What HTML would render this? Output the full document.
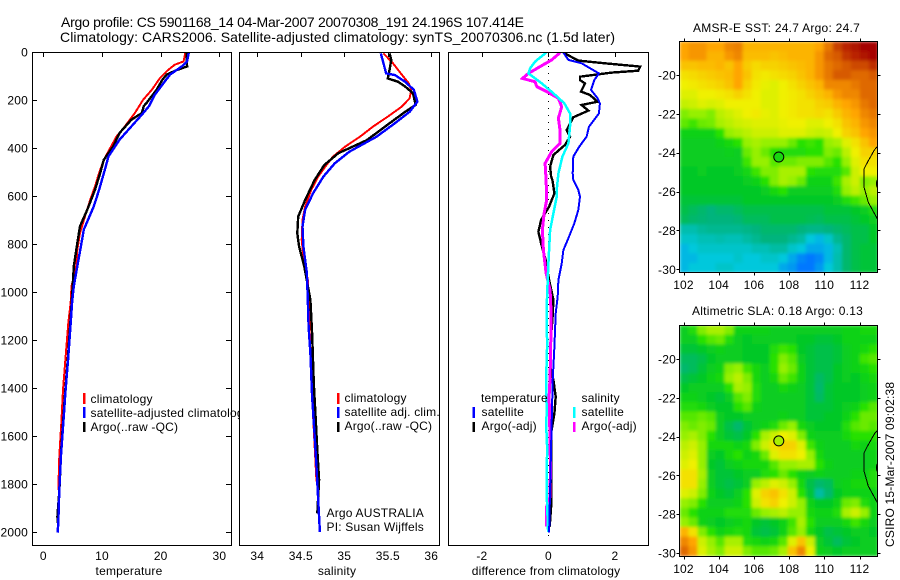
<!DOCTYPE html>
<html lang="en">
<head>
<meta charset="utf-8">
<title>Argo profile CS 5901168_14</title>
<style>
html,body{margin:0;padding:0;background:#fff;}
svg{display:block;}
text{font-family:"Liberation Sans",Arial,sans-serif;font-size:12px;fill:#000;letter-spacing:.2px;}
.title{font-size:14px;letter-spacing:0;}
.frame{fill:none;stroke:#000;stroke-width:1;shape-rendering:crispEdges;}
.bg{fill:#fff;}
</style>
</head>
<body>
<svg id="fig" xmlns="http://www.w3.org/2000/svg" width="900" height="580" viewBox="0 0 900 580">
  <defs>
    <filter id="soften" filterUnits="userSpaceOnUse" x="660" y="20" width="240" height="560">
      <feGaussianBlur stdDeviation="1.5" edgeMode="duplicate"/>
    </filter>
    <clipPath id="clip-sst"><rect x="680" y="42" width="198" height="231"/></clipPath>
    <clipPath id="clip-sla"><rect x="680" y="326" width="198" height="231"/></clipPath>
  </defs>
  <rect class="bg" x="0" y="0" width="900" height="580"/>

  <text class="title" x="61" y="27" textLength="463" lengthAdjust="spacing">Argo profile: CS 5901168_14 04-Mar-2007 20070308_191 24.196S 107.414E</text>
  <text class="title" x="60" y="42" textLength="555" lengthAdjust="spacing">Climatology: CARS2006. Satellite-adjusted climatology: synTS_20070306.nc (1.5d later)</text>

  <g>
    <rect class="bg" x="32.5" y="52.5" width="199" height="493"/>
    <g id="marks-temp"></g>
    <g id="axis-temp"></g>
    <rect class="frame" x="32.5" y="52.5" width="199" height="493"/>
    <rect x="83" y="393" width="2.5" height="11" fill="#f00"/>
    <rect x="83" y="407" width="2.5" height="11" fill="#00f"/>
    <rect x="83" y="422" width="2.5" height="10" fill="#000"/>
    <text x="90.5" y="403">climatology</text>
    <text x="90.5" y="417">satellite-adjusted climatology</text>
    <text x="90.5" y="431">Argo(..raw -QC)</text>
    <text x="129" y="575" text-anchor="middle">temperature</text>
  </g>

  <g>
    <rect class="bg" x="239.5" y="52.5" width="200" height="493"/>
    <g id="marks-sal"></g>
    <g id="axis-sal"></g>
    <rect class="frame" x="239.5" y="52.5" width="200" height="493"/>
    <rect x="337" y="393" width="2.5" height="11" fill="#f00"/>
    <rect x="337" y="407" width="2.5" height="11" fill="#00f"/>
    <rect x="337" y="422" width="2.5" height="10" fill="#000"/>
    <text x="344.5" y="402">climatology</text>
    <text x="344.5" y="416">satellite adj. clim.</text>
    <text x="344.5" y="430">Argo(..raw -QC)</text>
    <text x="326.5" y="517">Argo AUSTRALIA</text>
    <text x="326.5" y="531">PI: Susan Wijffels</text>
    <text x="337" y="575" text-anchor="middle">salinity</text>
  </g>

  <g>
    <rect class="bg" x="448.5" y="52.5" width="200" height="493"/>
    <g id="marks-diff"></g>
    <g id="axis-diff"></g>
    <rect class="frame" x="448.5" y="52.5" width="200" height="493"/>
    <text x="481" y="402">temperature</text>
    <rect x="472.5" y="407" width="2.5" height="11" fill="#00f"/>
    <text x="481.5" y="416">satellite</text>
    <rect x="472.5" y="422" width="2.5" height="10" fill="#000"/>
    <text x="481.5" y="430">Argo(-adj)</text>
    <text x="581.5" y="402">salinity</text>
    <rect x="573" y="407" width="2.5" height="11" fill="#0ff"/>
    <text x="581.5" y="416">satellite</text>
    <rect x="573" y="422" width="2.5" height="10" fill="#f0f"/>
    <text x="581.5" y="430">Argo(-adj)</text>
    <text x="546" y="575" text-anchor="middle">difference from climatology</text>
  </g>

  <g>
    <text x="693" y="32" textLength="167" lengthAdjust="spacing">AMSR-E SST: 24.7 Argo: 24.7</text>
    <g clip-path="url(#clip-sst)">
      <g id="cells-sst" filter="url(#soften)"></g>
      <g id="over-sst"></g>
    </g>
    <g id="axis-sst"></g>
    <rect class="frame" x="679.5" y="41.5" width="198" height="231"/>
  </g>

  <g>
    <text x="692" y="315" textLength="171" lengthAdjust="spacing">Altimetric SLA: 0.18 Argo: 0.13</text>
    <g clip-path="url(#clip-sla)">
      <g id="cells-sla" filter="url(#soften)"></g>
      <g id="over-sla"></g>
    </g>
    <g id="axis-sla"></g>
    <rect class="frame" x="679.5" y="325.5" width="198" height="231"/>
  </g>

  <text transform="translate(894,547) rotate(-90)">CSIRO 15-Mar-2007 09:02:38</text>
</svg>

<script>
// ---- depth tick labels ----
const depthTicks = [0, 200, 400, 600, 800, 1000, 1200, 1400, 1600, 1800, 2000];
const tempTicks = [0, 10, 20, 30];
const salTicks = [34, 34.5, 35, 35.5, 36];
const diffTicks = [-2, 0, 2];
const lonTicks = [102, 104, 106, 108, 110, 112];
const latTicks = [-20, -22, -24, -26, -28, -30];

// ---- temperature panel ----
const tempClimDepth = [0, 39, 53, 74, 108, 157, 199, 254, 310, 351, 407, 449, 504, 560, 615, 685, 754, 824, 893, 976, 1042, 1130, 1270, 1408, 1547, 1686, 1825];
const tempClimValue = [24.2, 23.9, 22.4, 21.3, 19.9, 18.5, 17, 15.6, 13.9, 12.5, 11.25, 10.3, 9.5, 8.8, 8, 7.1, 6.25, 5.8, 5.6, 4.8, 4.66, 4.26, 3.8, 3.35, 3.07, 2.73, 2.56];
const tempSatDepth = [0, 39, 60, 94, 129, 178, 226, 261, 310, 365, 435, 490, 574, 643, 740, 810, 893, 976, 1042, 1130, 1270, 1408, 1547, 1686, 1825, 1963, 2003];
const tempSatValue = [24.8, 24.5, 23.6, 21.6, 20.5, 19, 18, 16.8, 15, 13, 11.1, 10.5, 9.5, 8.6, 6.9, 6.4, 5.8, 5.2, 4.9, 4.66, 4.26, 3.8, 3.4, 3, 2.73, 2.56, 2.44];
const tempArgoDepth = [0, 60, 76, 94, 115, 157, 212, 226, 254, 282, 337, 393, 449, 504, 574, 657, 726, 810, 893, 976, 1130, 1270, 1408, 1547, 1658, 1825, 1936, 1978];
const tempArgoValue = [24.4, 24.5, 22.7, 21, 20.3, 19.3, 17.6, 17.1, 16.8, 15, 13, 11.9, 10.3, 9.7, 8.8, 7.5, 6.25, 5.7, 5.2, 5, 4.6, 4.2, 3.75, 3.35, 3.05, 2.75, 2.4, 2.55];

// ---- salinity panel ----
const salClimDepth = [6, 47, 89, 130, 158, 193, 228, 269, 311, 353, 394, 436, 478, 519, 575, 644, 700, 783, 853, 950, 1144, 1436, 1790];
const salClimValue = [35.45, 35.56, 35.65, 35.74, 35.77, 35.75, 35.66, 35.5, 35.33, 35.18, 35.01, 34.87, 34.78, 34.7, 34.62, 34.55, 34.52, 34.51, 34.53, 34.58, 34.6, 34.63, 34.68];
const salSatDepth = [6, 47, 89, 96, 124, 158, 207, 249, 297, 353, 415, 464, 519, 589, 658, 728, 811, 922, 1033, 1144, 1256, 1436, 1575, 1728, 1867, 2000];
const salSatValue = [35.42, 35.45, 35.48, 35.58, 35.7, 35.8, 35.84, 35.75, 35.58, 35.37, 35.06, 34.89, 34.76, 34.64, 34.55, 34.52, 34.53, 34.57, 34.58, 34.59, 34.61, 34.63, 34.655, 34.68, 34.7, 34.72];
const salArgoDepth = [6, 33, 75, 110, 124, 144, 172, 221, 249, 297, 367, 422, 471, 533, 617, 686, 756, 811, 894, 1033, 1172, 1381, 1519, 1658, 1783, 1922];
const salArgoValue = [35.52, 35.54, 35.52, 35.5, 35.62, 35.7, 35.79, 35.82, 35.7, 35.52, 35.26, 34.93, 34.77, 34.66, 34.55, 34.47, 34.46, 34.48, 34.54, 34.61, 34.63, 34.65, 34.67, 34.69, 34.71, 34.69];

// ---- difference panel ----
const diffTempSatDepth = [3, 33, 47, 89, 117, 158, 193, 214, 256, 311, 353, 394, 436, 506, 533, 575, 603, 658, 714, 783, 825, 881, 950, 1019, 1089, 1228, 1367, 1644, 2003];
const diffTempSatValue = [0.45, 0.6, 1.0, 1.52, 1.38, 1.28, 1.48, 1.55, 1.52, 1.22, 1.15, 0.93, 0.75, 0.73, 0.75, 0.9, 0.95, 0.9, 0.78, 0.58, 0.45, 0.4, 0.3, 0.28, 0.22, 0.18, 0.13, 0.08, 0.02];
const diffTempArgoDepth = [3, 36, 47, 61, 78, 86, 103, 117, 131, 165, 179, 207, 221, 244, 272, 325, 353, 387, 429, 478, 519, 533, 589, 644, 700, 749, 797, 867, 950, 1033, 1117, 1228, 1325, 1367, 1436, 1506, 1589, 1894, 1978];
const diffTempArgoValue = [0.45, 0.9, 1.7, 2.76, 2.7, 1.9, 0.95, 0.95, 1.1, 0.98, 1.25, 1.48, 1.0, 1.2, 0.75, 0.55, 0.65, 0.5, 0.15, 0.05, 0.08, 0.12, 0.18, 0.02, -0.22, -0.3, -0.22, -0.08, 0.02, 0.15, 0.12, 0.05, 0.08, 0.15, 0.22, 0.18, 0.08, 0.08, 0.04];
const diffSalSatDepth = [3, 40, 68, 89, 110, 131, 172, 214, 256, 311, 381, 436, 506, 575, 603, 672, 742, 881, 950, 1061, 1228, 1367, 1506, 1547, 1644, 1839, 2000];
const diffSalSatValue = [-0.07, -0.4, -0.55, -0.6, -0.4, -0.2, 0.15, 0.48, 0.65, 0.65, 0.6, 0.42, 0.3, 0.25, 0.25, 0.15, 0.05, 0, -0.02, -0.05, -0.04, -0.07, -0.05, -0.07, -0.04, -0.05, -0.01];
const diffSalArgoDepth = [3, 33, 61, 89, 110, 124, 144, 165, 193, 228, 276, 325, 381, 415, 464, 533, 617, 672, 742, 825, 922, 992, 1089, 1228, 1353, 1436, 1547, 1714, 1853, 1894, 1978];
const diffSalArgoValue = [0.35, 0.1, -0.25, -0.6, -0.78, -0.4, -0.35, -0.05, 0.3, 0.4, 0.3, 0.35, 0.35, 0.1, -0.1, -0.07, -0.05, -0.13, -0.18, -0.15, -0.07, 0.05, 0.08, 0.07, 0.05, 0.02, 0.04, 0.06, 0.05, -0.05, -0.05];
const zeroLineDepth = [0, 2040];
const zeroLineValue = [0, 0];

// ---- SST map values on a colour scale of 0 (blue) to 100 (dark red) ----
const sstRows = [
 [80,82,82,80,80,84,85,78,78,78,78,78,78,78,78,80,86,93,96,98,100,100],
 [80,82,82,78,78,82,84,77,77,77,76,77,78,78,78,82,88,90,94,96,98,100],
 [76,76,77,77,78,76,80,75,73,74,74,75,76,77,78,82,86,88,90,92,92,95],
 [72,73,74,75,76,77,80,76,72,71,72,73,74,76,78,82,86,90,90,88,88,90],
 [70,71,72,73,74,76,80,74,71,69,68,70,72,74,76,78,84,84,84,86,88,88],
 [68,68,70,70,71,72,74,72,70,68,68,70,71,72,74,76,78,82,84,84,88,88],
 [65,66,68,67,68,70,70,70,70,68,68,70,71,72,72,74,75,78,80,82,86,88],
 [58,60,60,58,64,66,68,70,71,69,68,70,71,72,72,73,72,75,78,80,84,86],
 [55,52,56,57,62,64,66,67,68,68,68,69,70,70,68,68,70,72,76,78,82,84],
 [44,44,44,44,50,60,62,64,66,66,66,68,68,68,66,65,66,70,74,76,80,82],
 [42,42,42,42,44,46,50,60,62,60,60,60,56,50,52,50,60,62,68,72,76,80],
 [42,42,42,42,42,43,42,56,60,56,50,48,48,48,50,50,58,56,64,70,74,74],
 [42,42,42,42,42,42,42,52,60,60,54,56,56,58,58,58,54,50,60,68,72,72],
 [40,40,42,40,40,40,42,45,52,58,58,62,62,62,50,48,48,48,54,66,70,70],
 [40,40,40,40,40,40,40,42,44,50,58,62,60,56,44,44,44,52,62,66,58,60],
 [40,40,40,40,40,40,40,40,40,42,46,50,42,42,42,42,42,48,60,64,60,64],
 [38,38,38,38,38,38,38,40,40,40,40,40,40,40,40,40,40,42,48,52,56,60],
 [36,34,32,30,32,32,34,36,36,36,36,36,36,36,36,36,38,38,38,40,42,48],
 [34,32,31,30,30,30,31,34,34,34,36,36,36,36,35,34,36,36,36,38,40,42],
 [25,25,27,28,28,28,28,29,30,32,32,32,32,30,29,29,30,32,34,36,36,40],
 [22,22,24,24,25,24,24,26,28,30,30,30,28,26,20,18,22,28,32,36,36,40],
 [18,20,22,22,22,22,22,22,24,24,26,26,22,20,16,16,18,24,32,36,38,38],
 [18,18,20,20,20,20,22,20,20,22,22,20,16,12,10,12,18,25,32,36,38,38],
 [18,20,20,20,22,22,20,20,20,20,20,16,14,10,10,14,20,25,32,36,38,38]
];

// ---- altimetric SLA map values on the same colour scale ----
const slaRows = [
 [42,48,58,62,62,58,44,44,44,44,42,42,42,42,42,42,42,42,44,44,46,46],
 [42,42,50,54,56,48,42,40,42,42,42,42,42,40,40,38,38,40,44,44,44,44],
 [38,38,40,42,44,42,42,40,40,40,48,52,50,40,38,36,36,38,42,44,46,50],
 [34,34,36,40,42,42,42,40,40,40,50,58,54,42,38,36,36,38,42,44,52,54],
 [32,34,38,42,44,58,60,52,46,42,50,60,56,44,38,36,36,40,42,44,46,50],
 [36,38,40,44,46,60,64,58,46,42,46,56,52,44,38,33,36,40,42,40,44,46],
 [40,42,42,42,42,50,62,60,48,42,42,46,44,42,38,32,38,40,40,40,42,44],
 [44,44,42,40,38,42,54,58,48,42,42,42,42,42,38,33,38,40,40,40,42,44],
 [48,48,46,42,40,40,50,54,44,42,42,42,42,42,38,38,38,40,42,44,50,54],
 [54,54,56,54,42,40,40,42,42,42,42,44,42,42,38,38,40,40,44,50,56,56],
 [58,56,58,56,42,36,32,38,42,44,48,56,60,46,42,40,40,40,48,54,56,54],
 [60,62,58,50,42,38,36,40,50,62,66,70,68,58,44,42,42,42,46,50,50,50],
 [64,66,60,46,46,46,44,46,58,66,72,74,74,68,52,44,42,42,42,46,44,46],
 [66,68,60,42,40,46,50,44,46,56,68,72,72,70,60,46,42,42,42,42,42,44],
 [68,70,60,40,38,42,44,46,46,46,54,60,60,62,62,50,44,42,42,42,42,44],
 [72,72,62,42,38,38,40,42,42,48,50,56,50,44,42,44,42,42,42,44,44,48],
 [72,72,60,42,38,36,38,42,60,64,68,66,60,46,36,32,34,42,44,46,46,48],
 [68,66,58,44,40,38,42,50,68,74,76,72,66,50,38,26,32,40,44,44,44,44],
 [60,58,50,42,42,42,44,50,66,72,74,70,66,60,44,40,40,44,56,58,48,44],
 [56,50,44,44,44,48,48,48,56,60,62,64,60,60,46,44,44,48,62,66,60,44],
 [60,56,44,42,40,42,44,46,40,38,40,44,52,62,50,42,42,42,46,52,46,42],
 [78,72,58,50,44,46,48,46,38,36,38,44,54,60,46,40,36,38,40,42,42,40],
 [84,80,66,60,54,62,62,48,46,44,46,54,68,76,66,42,38,34,38,40,42,42],
 [88,82,68,62,58,66,66,58,54,54,56,62,76,84,70,44,42,40,42,42,42,42]
];

// ---- float position, its colour-scale values and the coastline ----
const floatLon = [107.414];
const floatLat = [-24.196];
const floatSstValue = [46];
const floatSlaValue = [62];
const coastLon = [113.1, 112.85, 112.45, 112.25, 112.25, 112.5, 112.8, 113.1];
const coastLat = [-23.6, -23.85, -24.5, -24.85, -25.75, -26.55, -27.05, -27.55];
const islandLon = [113.05];
const islandLat = [-25.6];

const NS = 'http://www.w3.org/2000/svg';
function linear(d0, d1, r0, r1) {
  return function (v) { return r0 + (v - d0) * (r1 - r0) / (d1 - d0); };
}
function node(parentId, tag) {
  const el = document.createElementNS(NS, tag);
  document.getElementById(parentId).appendChild(el);
  return el;
}
const yDepth = linear(0, 2000, 52, 532);
const xTemp = linear(0, 30, 43.3, 219.4);
const xSal = linear(34, 36, 257.3, 431.3);
const xDiff = linear(-2, 2, 481.9, 614.9);
const xLon = linear(102, 112, 683.5, 859.5);
const yLatSst = linear(-20, -30, 75, 269.3);
const yLatSla = linear(-20, -30, 359, 553);

function drawProfile(parentId, xScale, depths, values, color, width, name) {
  const pts = values.map(function (v, i) { return xScale(v).toFixed(1) + ',' + yDepth(depths[i]).toFixed(1); });
  const el = node(parentId, 'polyline');
  el.setAttribute('points', pts.join(' '));
  el.setAttribute('fill', 'none');
  el.setAttribute('stroke', color);
  el.setAttribute('stroke-width', width);
  el.setAttribute('shape-rendering', 'crispEdges');
  
  
}

function drawTopTicks(parentId, xScale, ticks, labelFn) {
  ticks.forEach(function (t) {
    const x = Math.round(xScale(t)) + 0.5;
    const tick = node(parentId, 'line');
    tick.setAttribute('x1', x); tick.setAttribute('x2', x);
    tick.setAttribute('y1', 52); tick.setAttribute('y2', 57);
    tick.setAttribute('stroke', '#000');
    tick.setAttribute('shape-rendering', 'crispEdges');
    
    
    const label = node(parentId, 'text');
    label.setAttribute('x', xScale(t));
    label.setAttribute('y', 560);
    label.setAttribute('text-anchor', 'middle');
    label.textContent = labelFn(t);
    
    
  });
}

// temperature panel
drawProfile('marks-temp', xTemp, tempClimDepth, tempClimValue, '#f00', 2, 'temperature-climatology-line');
drawProfile('marks-temp', xTemp, tempArgoDepth, tempArgoValue, '#000', 2.4, 'temperature-argo-line');
drawProfile('marks-temp', xTemp, tempSatDepth, tempSatValue, '#00f', 2.4, 'temperature-satellite-line');
drawTopTicks('axis-temp', xTemp, tempTicks, String);
depthTicks.forEach(function (d) {
  const y = Math.round(yDepth(d)) + 0.5;
  [[32, 37], [226, 231]].forEach(function (span) {
    const tick = node('axis-temp', 'line');
    tick.setAttribute('x1', span[0]); tick.setAttribute('x2', span[1]);
    tick.setAttribute('y1', y); tick.setAttribute('y2', y);
    tick.setAttribute('stroke', '#000');
    tick.setAttribute('shape-rendering', 'crispEdges');
    
    
  });
  const label = node('axis-temp', 'text');
  label.setAttribute('x', 28);
  label.setAttribute('y', yDepth(d) + 4.5);
  label.setAttribute('text-anchor', 'end');
  label.textContent = d;
  
  
});

// salinity panel
drawProfile('marks-sal', xSal, salClimDepth, salClimValue, '#f00', 2, 'salinity-climatology-line');
drawProfile('marks-sal', xSal, salArgoDepth, salArgoValue, '#000', 2.4, 'salinity-argo-line');
drawProfile('marks-sal', xSal, salSatDepth, salSatValue, '#00f', 2.4, 'salinity-satellite-line');
drawTopTicks('axis-sal', xSal, salTicks, String);

// difference panel
(function () {
  const zero = node('marks-diff', 'line');
  zero.setAttribute('x1', xDiff(zeroLineValue[0])); zero.setAttribute('x2', xDiff(zeroLineValue[1]));
  zero.setAttribute('y1', yDepth(zeroLineDepth[0])); zero.setAttribute('y2', yDepth(zeroLineDepth[1]));
  zero.setAttribute('stroke', '#000');
  zero.setAttribute('stroke-dasharray', '1 6');
  zero.setAttribute('shape-rendering', 'crispEdges');
  
  
})();
drawProfile('marks-diff', xDiff, diffTempArgoDepth, diffTempArgoValue, '#000', 2.4, 'difference-temperature-argo-line');
drawProfile('marks-diff', xDiff, diffSalArgoDepth, diffSalArgoValue, '#f0f', 3, 'difference-salinity-argo-line');
drawProfile('marks-diff', xDiff, diffSalSatDepth, diffSalSatValue, '#0ff', 2.5, 'difference-salinity-satellite-line');
drawProfile('marks-diff', xDiff, diffTempSatDepth, diffTempSatValue, '#00f', 2, 'difference-temperature-satellite-line');
drawTopTicks('axis-diff', xDiff, diffTicks, String);

// colour scale
function colorOf(v) {
  const stops = [[0,0,200],[0,120,255],[0,200,220],[0,180,125],[0,200,40],[40,225,0],[150,240,0],[240,240,0],[255,165,0],[215,90,0],[165,0,0]];
  const p = Math.max(0, Math.min(99.999, v)) / 10;
  const i = Math.floor(p), f = p - i;
  const c = [0, 1, 2].map(function (k) { return Math.round(stops[i][k] + (stops[i + 1][k] - stops[i][k]) * f); });
  return 'rgb(' + c.join(',') + ')';
}

function drawMap(prefix, rows, yLat, floatValues, ticksLabelY) {
  const lonStart = 101.77, lonStep = 0.5127, latStart = yLat === yLatSst ? -18.27 : -18.25, latStep = 0.4958;
  rows.forEach(function (row, r) {
    row.forEach(function (v, c) {
      const x0 = xLon(lonStart + c * lonStep), x1 = xLon(lonStart + (c + 1) * lonStep);
      const y0 = yLat(latStart - r * latStep), y1 = yLat(latStart - (r + 1) * latStep);
      const cell = node('cells-' + prefix, 'rect');
      cell.setAttribute('x', x0.toFixed(2));
      cell.setAttribute('y', y0.toFixed(2));
      cell.setAttribute('width', (x1 - x0 + 0.6).toFixed(2));
      cell.setAttribute('height', (y1 - y0 + 0.6).toFixed(2));
      cell.setAttribute('fill', colorOf(v));
      
      
    });
  });

  const coast = node('over-' + prefix, 'polyline');
  coast.setAttribute('points', coastLon.map(function (lon, i) { return xLon(lon).toFixed(1) + ',' + yLat(coastLat[i]).toFixed(1); }).join(' '));
  coast.setAttribute('fill', 'none');
  coast.setAttribute('stroke', '#000');
  coast.setAttribute('stroke-width', '1');
  coast.setAttribute('shape-rendering', 'crispEdges');
  
  

  const island = node('over-' + prefix, 'ellipse');
  island.setAttribute('cx', xLon(islandLon[0]));
  island.setAttribute('cy', yLat(islandLat[0]));
  island.setAttribute('rx', 1.5);
  island.setAttribute('ry', 4);
  island.setAttribute('fill', 'none');
  island.setAttribute('stroke', '#000');
  
  

  const marker = node('over-' + prefix, 'circle');
  marker.setAttribute('cx', xLon(floatLon[0]));
  marker.setAttribute('cy', yLat(floatLat[0]) + 0.5);
  marker.setAttribute('r', 5);
  marker.setAttribute('fill', colorOf(floatValues[0]));
  marker.setAttribute('stroke', '#000');
  
  

  const frameTop = yLat === yLatSst ? 41.5 : 325.5;
  const frameBottom = frameTop + 231;
  lonTicks.forEach(function (lon) {
    const x = Math.round(xLon(lon)) + 0.5;
    [[frameTop - 3, frameTop], [frameBottom, frameBottom + 3]].forEach(function (span) {
      const tick = node('axis-' + prefix, 'line');
      tick.setAttribute('x1', x); tick.setAttribute('x2', x);
      tick.setAttribute('y1', span[0]); tick.setAttribute('y2', span[1]);
      tick.setAttribute('stroke', '#000');
      tick.setAttribute('shape-rendering', 'crispEdges');
      
      
    });
    const label = node('axis-' + prefix, 'text');
    label.setAttribute('x', xLon(lon));
    label.setAttribute('y', ticksLabelY);
    label.setAttribute('text-anchor', 'middle');
    label.textContent = lon;
    
    
  });
  latTicks.forEach(function (lat) {
    const y = Math.round(yLat(lat)) + 0.5;
    [[676.5, 679.5], [877.5, 880.5]].forEach(function (span) {
      const tick = node('axis-' + prefix, 'line');
      tick.setAttribute('x1', span[0]); tick.setAttribute('x2', span[1]);
      tick.setAttribute('y1', y); tick.setAttribute('y2', y);
      tick.setAttribute('stroke', '#000');
      tick.setAttribute('shape-rendering', 'crispEdges');
      
      
    });
    const label = node('axis-' + prefix, 'text');
    label.setAttribute('x', 676);
    label.setAttribute('y', yLat(lat) + 4.5);
    label.setAttribute('text-anchor', 'end');
    label.textContent = lat;
    
    
  });
}
drawMap('sst', sstRows, yLatSst, floatSstValue, 289);
drawMap('sla', slaRows, yLatSla, floatSlaValue, 573);
</script>
</body>
</html>
